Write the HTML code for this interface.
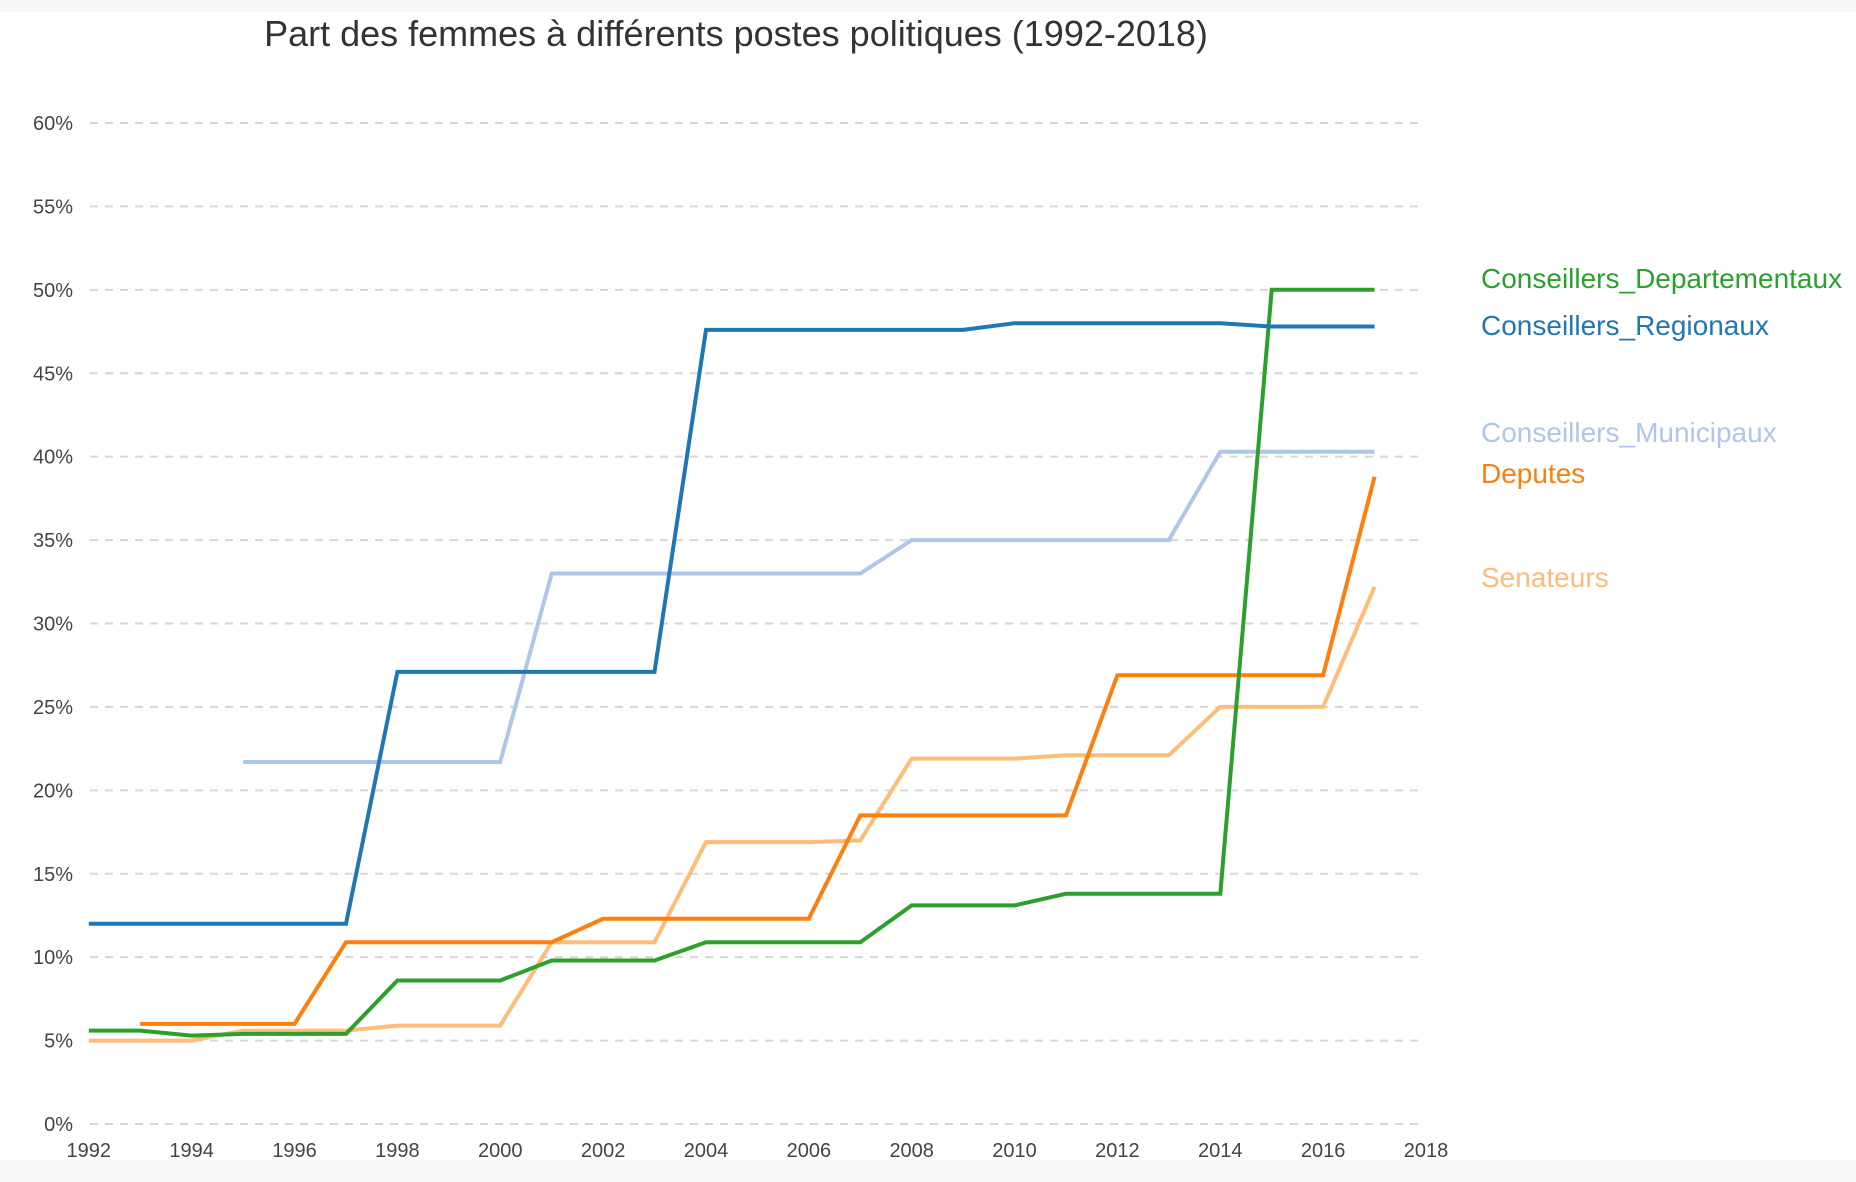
<!DOCTYPE html>
<html><head><meta charset="utf-8"><style>
html,body{margin:0;padding:0;background:#fff;}
svg{display:block;font-family:"Liberation Sans",sans-serif;}
</style></head><body>
<svg id="chart" width="1856" height="1182" viewBox="0 0 1856 1182">
<rect x="0" y="0" width="1856" height="12" fill="#f7f7f7"/>
<rect x="0" y="1160" width="1856" height="22" fill="#f9f9f9"/>
<text x="736" y="46" text-anchor="middle" font-size="36" fill="#333">Part des femmes à différents postes politiques (1992-2018)</text>
<g id="grid"></g><g id="xt"></g><g id="lines"></g><g id="legend"></g>
</svg>
<script>
const years=[1992,1993,1994,1995,1996,1997,1998,1999,2000,2001,2002,2003,2004,2005,2006,2007,2008,2009,2010,2011,2012,2013,2014,2015,2016,2017];
const yTicks=[0,5,10,15,20,25,30,35,40,45,50,55,60];
const xTicks=[1992,1994,1996,1998,2000,2002,2004,2006,2008,2010,2012,2014,2016,2018];
const municipaux=[null,null,null,21.7,21.7,21.7,21.7,21.7,21.7,33,33,33,33,33,33,33,35,35,35,35,35,35,40.3,40.3,40.3,40.3];
const senateurs=[5.0,5.0,5.0,5.6,5.6,5.6,5.9,5.9,5.9,10.9,10.9,10.9,16.9,16.9,16.9,17.0,21.9,21.9,21.9,22.1,22.1,22.1,25.0,25.0,25.0,32.2];
const deputes=[null,6.0,6.0,6.0,6.0,10.9,10.9,10.9,10.9,10.9,12.3,12.3,12.3,12.3,12.3,18.5,18.5,18.5,18.5,18.5,26.9,26.9,26.9,26.9,26.9,38.8];
const departementaux=[5.6,5.6,5.3,5.4,5.4,5.4,8.6,8.6,8.6,9.8,9.8,9.8,10.9,10.9,10.9,10.9,13.1,13.1,13.1,13.8,13.8,13.8,13.8,50.0,50.0,50.0];
const regionaux=[12,12,12,12,12,12,27.1,27.1,27.1,27.1,27.1,27.1,47.6,47.6,47.6,47.6,47.6,47.6,48,48,48,48,48,47.8,47.8,47.8];
const seriesNames=["Conseillers_Municipaux","Senateurs","Deputes","Conseillers_Departementaux","Conseillers_Regionaux"];
const legendNames=["Conseillers_Departementaux","Conseillers_Regionaux","Conseillers_Municipaux","Deputes","Senateurs"];
const NS="http://www.w3.org/2000/svg";
const X=y=>88.8+(y-1992)*(1426-88.8)/26;
const Y=v=>1124-v*(1124-123)/60;
const colors={"Conseillers_Municipaux":"#aec7e8","Senateurs":"#ffbb78","Deputes":"#ff7f0e","Conseillers_Departementaux":"#2ca02c","Conseillers_Regionaux":"#1f77b4"};
const dataMap={"Conseillers_Municipaux":municipaux,"Senateurs":senateurs,"Deputes":deputes,"Conseillers_Departementaux":departementaux,"Conseillers_Regionaux":regionaux};
const legendY=[288,335,442,483,587];
const grid=document.getElementById('grid');
yTicks.forEach(t=>{
 const l=document.createElementNS(NS,'line');
 l.setAttribute('x1',90);l.setAttribute('x2',1422);l.setAttribute('y1',Y(t));l.setAttribute('y2',Y(t));
 l.setAttribute('stroke','#d6d6d6');l.setAttribute('stroke-width',2);l.setAttribute('stroke-dasharray','8,7');
 
 
 grid.appendChild(l);
 const tx=document.createElementNS(NS,'text');
 tx.setAttribute('x',73);tx.setAttribute('y',Y(t)+7);tx.setAttribute('text-anchor','end');tx.setAttribute('font-size',20);tx.setAttribute('fill','#444');
 tx.textContent=t+'%';
 
 
 grid.appendChild(tx);
});
const xt=document.getElementById('xt');
xTicks.forEach(t=>{
 const tx=document.createElementNS(NS,'text');
 tx.setAttribute('x',X(t));tx.setAttribute('y',1157);tx.setAttribute('text-anchor','middle');tx.setAttribute('font-size',20);tx.setAttribute('fill','#444');
 tx.textContent=t;
 
 
 xt.appendChild(tx);
});
const lg=document.getElementById('lines');
seriesNames.forEach(n=>{
 const d=dataMap[n];let p='';let started=false;
 d.forEach((v,i)=>{if(v==null)return;p+=(started?'L':'M')+X(years[i]).toFixed(1)+','+Y(v).toFixed(1);started=true;});
 const path=document.createElementNS(NS,'path');
 path.setAttribute('d',p);path.setAttribute('fill','none');path.setAttribute('stroke',colors[n]);path.setAttribute('stroke-width',4);
 
 
 lg.appendChild(path);
});
const leg=document.getElementById('legend');
legendNames.forEach((n,i)=>{
 const tx=document.createElementNS(NS,'text');
 tx.setAttribute('x',1481);tx.setAttribute('y',legendY[i]);tx.setAttribute('font-size',28);tx.setAttribute('fill',colors[n]);
 tx.textContent=n;
 
 
 leg.appendChild(tx);
});
</script>
</body></html>
